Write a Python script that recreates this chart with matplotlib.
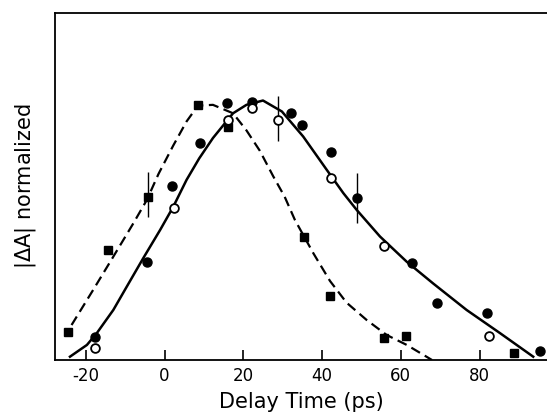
import matplotlib
matplotlib.use("Agg")
import matplotlib.pyplot as plt

# Filled squares
sq_x = [-24.4, -14.4, -4.1, 8.5, 16.0, 35.5, 42.0, 55.8, 61.3, 88.6]
sq_y = [0.11, 0.43, 0.64, 1.0, 0.915, 0.481, 0.25, 0.085, 0.094, 0.026]

# Filled circles
fc_x = [-17.6, -4.5, 1.9, 8.9, 15.9, 22.1, 32.0, 35.0, 42.2, 48.9, 62.8, 69.1, 81.8, 95.4]
fc_y = [0.091, 0.383, 0.68, 0.852, 1.007, 1.01, 0.967, 0.92, 0.816, 0.634, 0.379, 0.222, 0.186, 0.035]

# Open circles
oc_x = [-17.6, 2.3, 16.0, 22.3, 28.8, 42.2, 55.7, 82.3]
oc_y = [0.048, 0.595, 0.94, 0.987, 0.94, 0.713, 0.448, 0.094]

# Error bars (x, y_low, y_high)
eb_x = [-4.1, 28.8, 48.9]
eb_lo = [0.56, 0.86, 0.536]
eb_hi = [0.735, 1.035, 0.732]

# Dashed curve (traced)
dash_x = [-23.6, -18.1, -13.0, -7.9, -4.5, -1.5, 2.2, 5.6, 8.5, 12.3, 17.4, 20.8,
          24.2, 27.6, 30.5, 33.1, 37.8, 42.0, 46.2, 51.3, 56.4, 61.5, 66.5, 67.9]
dash_y = [0.137, 0.275, 0.405, 0.536, 0.627, 0.73, 0.84, 0.935, 0.997, 1.0, 0.967, 0.90,
          0.82, 0.72, 0.64, 0.549, 0.418, 0.31, 0.225, 0.157, 0.098, 0.059, 0.013, 0.0]

# Solid curve (traced)
sol_x = [-24.0, -19.7, -17.2, -13.0, -9.6, -5.4, -1.1, 2.2, 5.6, 8.8, 12.3, 17.4, 20.8,
         25.0, 29.8, 35.2, 41.2, 45.4, 48.8, 54.7, 61.5, 68.2, 76.7, 85.2, 93.6]
sol_y = [0.013, 0.059, 0.105, 0.196, 0.287, 0.399, 0.51, 0.60, 0.706, 0.79, 0.87, 0.967, 1.0,
         1.017, 0.974, 0.876, 0.745, 0.654, 0.588, 0.484, 0.385, 0.30, 0.196, 0.105, 0.013]

xticks = [-20, 0, 20, 40, 60, 80]
xticklabels = ["-20", "0", "20", "40", "60", "80"]

fig = plt.figure(figsize=(5.47, 4.15), dpi=100)
ax = fig.add_axes([55 / 547, 1 - 360 / 415, 1 - 55 / 547, (360 - 13) / 415])

ax.plot(dash_x, dash_y, color="black", lw=1.6, ls=(0, (4.5, 2.5)), zorder=2)
ax.plot(sol_x, sol_y, color="black", lw=1.8, ls="-", zorder=2)

ax.vlines(eb_x, eb_lo, eb_hi, color="black", lw=1.0, zorder=3)

ax.plot(sq_x, sq_y, ls="none", marker="s", ms=5.8, mfc="black", mec="black", zorder=4)
ax.plot(fc_x, fc_y, ls="none", marker="o", ms=6.5, mfc="black", mec="black", zorder=4)
ax.plot(oc_x, oc_y, ls="none", marker="o", ms=6.3, mfc="white", mec="black", mew=1.3, zorder=5)

ax.set_xlim(-27.8, 97.1)
ax.set_ylim(0, 1.36)
ax.set_xticks(xticks)
ax.set_xticklabels(xticklabels, fontsize=12)
ax.set_yticks([])
ax.tick_params(axis="x", direction="in", length=7, width=1.2, pad=5)
ax.spines["right"].set_visible(False)
for s in ["left", "bottom", "top"]:
    ax.spines[s].set_linewidth(1.3)

ax.set_xlabel("Delay Time (ps)", fontsize=15, labelpad=5)
ax.set_ylabel(r"|$\Delta$A| normalized", fontsize=15, labelpad=12)

fig.savefig("out.png", dpi=100)
